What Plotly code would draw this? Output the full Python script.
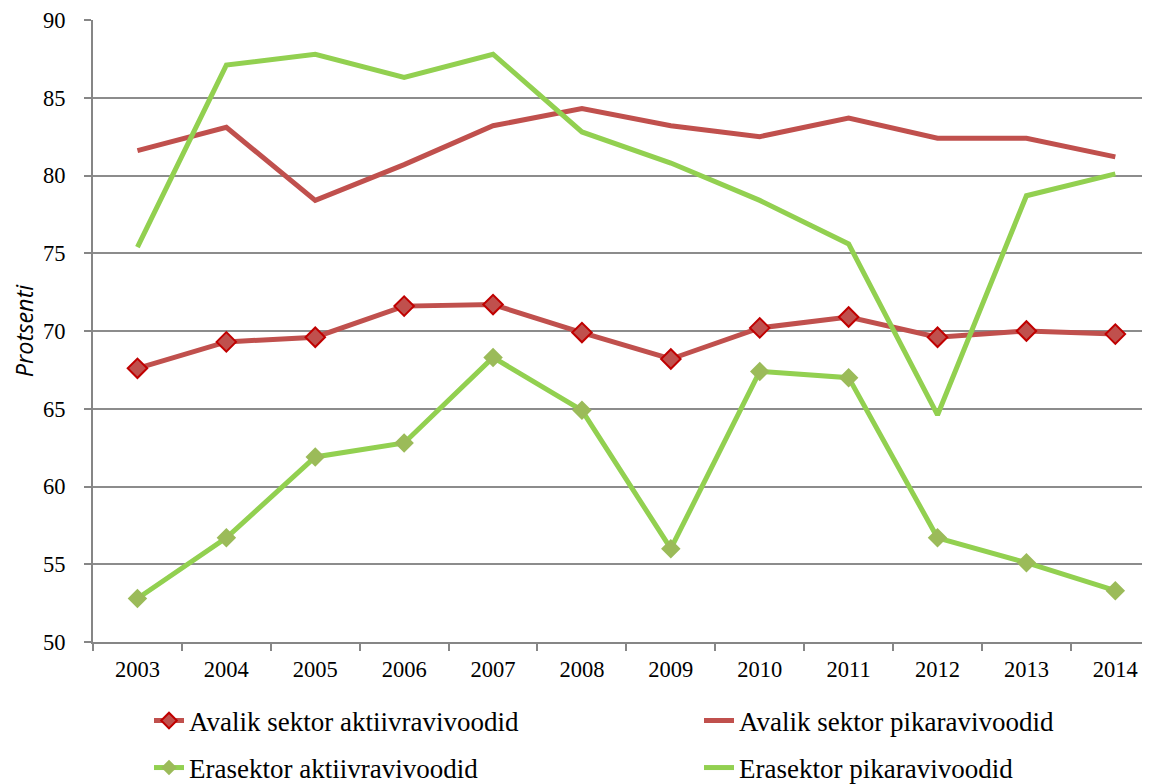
import plotly.graph_objects as go

years = ["2003", "2004", "2005", "2006", "2007", "2008", "2009", "2010", "2011", "2012", "2013", "2014"]
avalik_aktiiv = [67.6, 69.3, 69.6, 71.6, 71.7, 69.9, 68.2, 70.2, 70.9, 69.6, 70.0, 69.8]
avalik_pikaravi = [81.6, 83.1, 78.4, 80.7, 83.2, 84.3, 83.2, 82.5, 83.7, 82.4, 82.4, 81.2]
era_aktiiv = [52.8, 56.7, 61.9, 62.8, 68.3, 64.9, 56.0, 67.4, 67.0, 56.7, 55.1, 53.3]
era_pikaravi = [75.4, 87.1, 87.8, 86.3, 87.8, 82.8, 80.8, 78.4, 75.6, 64.6, 78.7, 80.1]

RED = "#C0504D"
RED_EDGE = "#C00000"
GREEN = "#92D050"
GREEN_MK = "#9BBB59"

fig = go.Figure()
fig.add_trace(go.Scatter(x=years, y=avalik_aktiiv, name="Avalik sektor aktiivravivoodid",
                         mode="lines+markers", line=dict(color=RED, width=5),
                         marker=dict(symbol="diamond", size=15, color=RED,
                                     line=dict(color=RED_EDGE, width=2)),
                         legend="legend", showlegend=True))
fig.add_trace(go.Scatter(x=years, y=avalik_pikaravi, name="Avalik sektor pikaravivoodid",
                         mode="lines", line=dict(color=RED, width=5), legend="legend2",
                         showlegend=True))
fig.add_trace(go.Scatter(x=years, y=era_aktiiv, name="Erasektor aktiivravivoodid",
                         mode="lines+markers", line=dict(color=GREEN, width=5),
                         marker=dict(symbol="diamond", size=15, color=GREEN_MK,
                                     line=dict(width=0)),
                         legend="legend3", showlegend=True))
fig.add_trace(go.Scatter(x=years, y=era_pikaravi, name="Erasektor pikaravivoodid",
                         mode="lines", line=dict(color=GREEN, width=5), legend="legend4",
                         showlegend=True))

legend_common = dict(orientation="v", xref="paper", yref="paper",
                     xanchor="left", yanchor="middle", visible=True,
                     font=dict(family="Liberation Serif", size=27, color="#000000"),
                     bgcolor="rgba(0,0,0,0)", itemsizing="constant")

# page body has an 8px default margin; figure is sized so it ends at the window edge
FIG_W, FIG_H = 1142, 776
L, T, B = 85, 12, 142
PLOT_W = FIG_W - L
PLOT_H = FIG_H - T - B
x_left = (141 - L) / PLOT_W
x_right = (691 - L) / PLOT_W
y_row1 = -(713 - (FIG_H - B)) / PLOT_H
y_row2 = -(760 - (FIG_H - B)) / PLOT_H

fig.update_layout(
    width=FIG_W, height=FIG_H,
    showlegend=True,
    margin=dict(l=L, r=0, t=T, b=B, autoexpand=False),
    paper_bgcolor="white", plot_bgcolor="white",
    font=dict(family="Liberation Serif", size=20, color="#000000"),
    legend=dict(x=x_left, y=y_row1, **legend_common),
    legend2=dict(x=x_right, y=y_row1, **legend_common),
    legend3=dict(x=x_left, y=y_row2, **legend_common),
    legend4=dict(x=x_right, y=y_row2, **legend_common),
    xaxis=dict(
        type="category", range=[-0.5, 11.39], automargin=False,
        showgrid=False, showline=True, linecolor="#868686", linewidth=2,
        ticks="outside", tickson="boundaries", ticklen=7, tickcolor="#868686", tickwidth=2,
        tickfont=dict(family="Liberation Serif", size=22.5, color="#000000"),
        ticklabelstandoff=6, ticklabeloverflow="allow",
    ),
    yaxis=dict(
        range=[50, 90], dtick=5, tick0=50, automargin=False,
        showgrid=True, gridcolor="#8C8C8C", gridwidth=2,
        showline=True, linecolor="#868686", linewidth=2,
        ticks="outside", ticklen=7, tickcolor="#868686", tickwidth=2,
        tickfont=dict(family="Liberation Serif", size=22.5, color="#000000"),
        ticklabelstandoff=14, ticklabeloverflow="allow",
        zeroline=False,
        title=dict(text="<i>Protsenti</i>", font=dict(family="Open Sans", size=23.5, color="#000000"),
                   standoff=8),
    ),
)

fig.write_html("out.html")
